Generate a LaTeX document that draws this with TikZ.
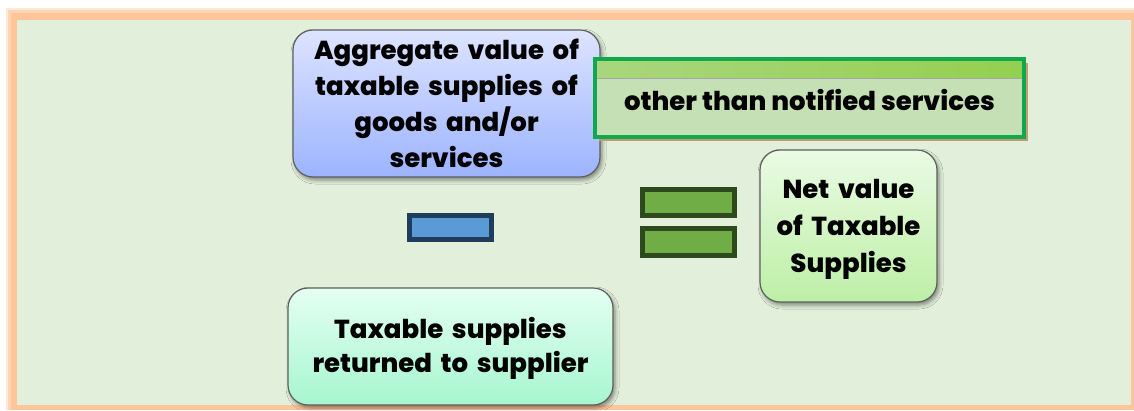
\documentclass[tikz,border=0pt]{standalone}
\usepackage{fontspec}
\setmainfont{Poppins}[BoldFont={Poppins ExtraBold}]
\usetikzlibrary{shadows,shadows.blur}
\definecolor{bggreen}{HTML}{E2EFDA}
\definecolor{frameorange}{HTML}{FFC59A}
\definecolor{boxline}{HTML}{5E5E5E}
\definecolor{aggtop}{HTML}{DDE4FF}
\definecolor{aggbot}{HTML}{9CB3FF}
\definecolor{nettop}{HTML}{EAFBE4}
\definecolor{netbot}{HTML}{BDEFA6}
\definecolor{rettop}{HTML}{E4FFF2}
\definecolor{retbot}{HTML}{A6F6CF}
\definecolor{notefill}{HTML}{C5E0B4}
\definecolor{noteline}{HTML}{0FA84C}
\definecolor{stripl}{HTML}{A9D67D}
\definecolor{stripr}{HTML}{93D050}
\definecolor{noteshadow}{HTML}{C19C72}
\definecolor{minusfill}{HTML}{5B9BD5}
\definecolor{minusline}{HTML}{1F3D5C}
\definecolor{eqfill}{HTML}{70AD47}
\definecolor{eqline}{HTML}{2C4A1C}
\tikzset{
  rbox/.style={draw=boxline, line width=1.2pt, rounded corners=20pt, align=center,
    font=\fontsize{26}{36}\selectfont\bfseries, inner sep=0pt,
    blur shadow={shadow xshift=2pt, shadow yshift=-3pt, shadow blur radius=4pt, shadow opacity=45}},
  opbar/.style={line width=5pt, inner sep=0pt},
}
\begin{document}
\begin{tikzpicture}[x=1pt,y=-1pt]
\useasboundingbox (0,0) rectangle (1134,410);
\fill[white] (0,0) rectangle (1134,410);
\fill[frameorange!40] (6,8) rectangle (1134,410);
\fill[frameorange!75] (8,10) rectangle (1134,410);
\fill[frameorange] (11,13) rectangle (1134,410);
\fill[bggreen] (17,20) rectangle (1131,405);

\node[rbox, top color=aggtop, bottom color=aggbot, minimum width=307pt, minimum height=147pt, text width=300pt]
  (agg) at (446.5,103.5) {Aggregate value of\\taxable supplies of\\goods and/or\\services};

\node[fill=notefill, minimum width=429pt, minimum height=78pt, inner sep=0pt,
  drop shadow={shadow xshift=4pt, shadow yshift=-4pt, fill=noteshadow, opacity=1}]
  (notebg) at (809.5,98) {};
\shade[left color=stripl, right color=stripr] ([shift={(2,2)}]notebg.north west) rectangle ([shift={(-2,19)}]notebg.north east);
\draw[gray!70, line width=0.6pt] ([shift={(2,19)}]notebg.north west) -- ([shift={(-2,19)}]notebg.north east);
\node[draw=noteline, line width=4pt, minimum width=429pt, minimum height=78pt, inner sep=0pt,
  font=\fontsize{26}{30}\selectfont\bfseries] (note) at (notebg) {\raisebox{-1.5pt}[\height][\depth]{other than notified services}};

\node[opbar, draw=minusline, fill=minusfill, minimum width=82pt, minimum height=24pt] (minus) at (450.5,227.5) {};
\node[opbar, draw=eqline, fill=eqfill, minimum width=92pt, minimum height=26pt] (eqa) at (688.5,202.5) {};
\node[opbar, draw=eqline, fill=eqfill, minimum width=92pt, minimum height=27pt] (eqb) at (688.5,242) {};

\node[rbox, top color=nettop, bottom color=netbot, minimum width=177pt, minimum height=152pt, text width=175pt,
  font=\fontsize{26}{37}\selectfont\bfseries]
  (net) at (848.5,226) {\raisebox{-3pt}[\height][\depth]{\parbox{175pt}{\centering Net value\\of Taxable\\Supplies}}};

\node[rbox, top color=rettop, bottom color=retbot, minimum width=325pt, minimum height=117pt, text width=320pt,
  font=\fontsize{26}{34}\selectfont\bfseries]
  (ret) at (450.5,346.5) {\raisebox{-2pt}[\height][\depth]{\parbox{320pt}{\centering Taxable supplies\\returned to supplier}}};
\end{tikzpicture}
\end{document}
